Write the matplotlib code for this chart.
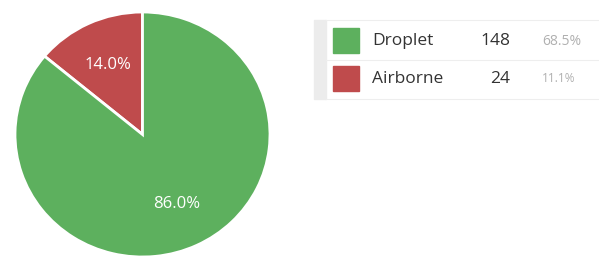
import matplotlib.pyplot as plt
from matplotlib.patches import Rectangle

labels = ["Droplet", "Airborne"]
counts = [148, 24]
percents = ["68.5%", "11.1%"]
colors = ["#5DB05E", "#BF4B4C"]

W, H = 599, 258
fig = plt.figure(figsize=(W / 100, H / 100), dpi=100)
plt.rcParams['font.family'] = ['Open Sans', 'DejaVu Sans']

# pie box in pixels (slightly squashed vertically, as in the reference)
x0, x1, y0, y1 = 15, 270, 12, 257
ax = fig.add_axes([x0 / W, (H - y1) / H, (x1 - x0) / W, (y1 - y0) / H])
# red slice first going counter-clockwise from 12 o'clock
wedges, texts, autotexts = ax.pie(
    counts[::-1], colors=colors[::-1], startangle=90, counterclock=True,
    autopct='%.1f%%', pctdistance=0.63,
    wedgeprops=dict(edgecolor='white', linewidth=2),
    textprops=dict(color='white', fontsize=12))
ax.set_xlim(-1, 1)
ax.set_ylim(-1, 1)
ax.set_aspect('auto')
ax.axis('off')


def fx(x):
    return x / W


def fy(y):
    return 1 - y / H


# legend table
fig.patches.append(Rectangle((fx(314), fy(99)), fx(12), (99 - 20) / H,
                             transform=fig.transFigure, color='#ECECEC', zorder=1))
for yy in [20, 60, 99]:
    fig.lines.append(plt.Line2D([fx(326), fx(599)], [fy(yy), fy(yy)],
                                transform=fig.transFigure, color='#EEEEEE', lw=0.8))

row_y = [41, 79]
for i in range(len(labels)):
    y = row_y[i]
    fig.patches.append(Rectangle((fx(333), fy(y + 12)), fx(26), 25 / H,
                                 transform=fig.transFigure, color=colors[i]))
    fig.text(fx(372), fy(y), labels[i], fontsize=12.5, color='#333333', va='center', ha='left')
    fig.text(fx(510), fy(y), str(counts[i]), fontsize=12.5, color='#333333', va='center', ha='right')
    fig.text(fx(542), fy(y), percents[i], fontsize=10 if i == 0 else 8.5,
             color='#B0B0B0', va='center', ha='left')

fig.savefig('out.png', dpi=100)
